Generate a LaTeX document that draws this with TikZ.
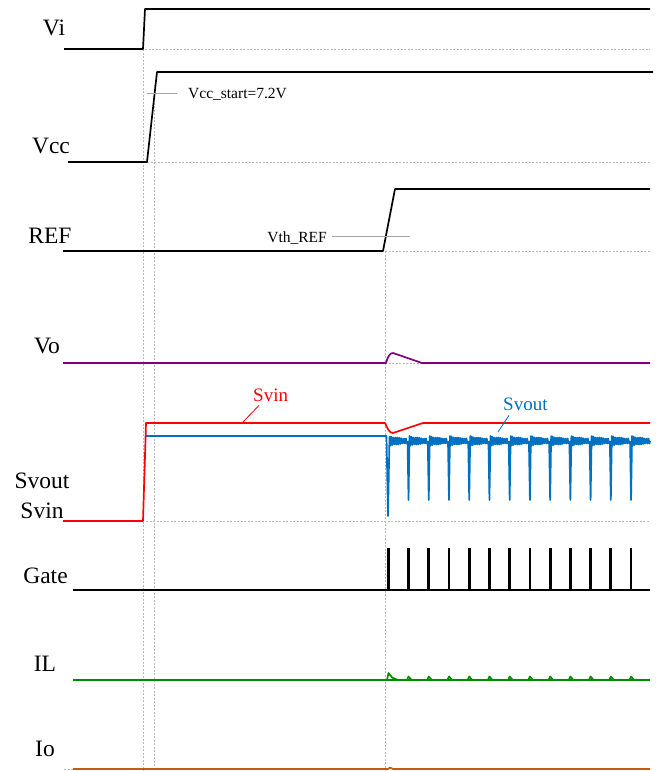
\documentclass[tikz,border=0pt]{standalone}
\usepackage{fontspec}
\setmainfont{Liberation Serif}
\definecolor{svoutblue}{RGB}{0,112,192}
\definecolor{vopurple}{RGB}{128,0,128}
\definecolor{ilgreen}{RGB}{0,140,0}
\definecolor{iobrown}{RGB}{197,90,17}
\tikzset{
trace/.style={line width=1.7pt, line join=round},
guide/.style={gray!55, line width=0.5pt, dash pattern=on 2pt off 1.5pt},
marker/.style={gray!70, line width=0.5pt},
siglbl/.style={font=\fontsize{23.5}{26}\selectfont, anchor=base, inner sep=0},
notelbl/.style={font=\fontsize{15.5}{17}\selectfont, inner sep=0},
}
\begin{document}
\begin{tikzpicture}[x=1pt,y=-1pt]
\useasboundingbox (0,0) rectangle (659,771);
\draw[guide] (143,49) -- (143,771);
\draw[guide] (154.5,85) -- (154.5,771);
\draw[guide] (385.5,251) -- (385.5,771);
\foreach \ya/\xa in {49/145,162/147,251/385,363/385,521/146}{
\draw[guide] (\xa,\ya) -- (650,\ya);
}
\draw[guide] (64,769) -- (73,769);
\node[siglbl] (vilbl) at (54,35) {Vi};
\node[siglbl] (vcclbl) at (51,153) {Vcc};
\node[siglbl] (reflbl) at (50,243) {REF};
\node[siglbl] (volbl) at (47,353) {Vo};
\node[siglbl] (svoutlbl) at (42,488) {Svout};
\node[siglbl] (svinlbl) at (42,518) {Svin};
\node[siglbl] (gatelbl) at (45.5,583) {Gate};
\node[siglbl] (illbl) at (45,671) {IL};
\node[siglbl] (iolbl) at (45,756) {Io};
\draw[trace] (64,49) -- (143,49) -- (145,9) -- (650,9);
\draw[trace] (68,162) -- (147,162) -- (157,72) -- (653,72);
\coordinate (vccstart) at (147,93);
\node[notelbl, anchor=base west] (vccnote) at (188,98) {Vcc\_start=7.2V};
\draw[marker] (vccstart) -- ++(30,0);
\draw[trace] (63,251) -- (383,251) -- (395,189) -- (650,189);
\node[notelbl, anchor=base east] (vthnote) at (327,242) {Vth\_REF};
\coordinate (vthend) at (410,236);
\draw[marker] ([xshift=5pt]vthnote.east |- vthend) -- (vthend);
\draw[trace, vopurple] (63,363) -- (386,363) .. controls (388,356) and (390,353) .. (393,353) -- (422,363) -- (650,363);
\draw[trace, svoutblue] (146,436) -- (386.5,436) -- (388,516) -- (389.5,437)
-- plot[domain=0:18, samples=37] ({389.5+\x},{441+5*exp(-\x/25)*sin(\x*170)});
\foreach \k in {1,...,12}{
\pgfmathsetmacro\xk{388.3+\k*20.23}
\draw[trace, svoutblue] (\xk-1,441) -- (\xk,500) -- (\xk+1,436)
-- plot[domain=0:18, samples=37] ({\xk+1+\x},{441+5*exp(-\x/25)*sin(\x*170)});
}
\draw[trace, red] (63,521) -- (143,521) -- (146,423) -- (385,423) .. controls (388,430) and (390,433) .. (393,433) -- (423,423) -- (650,423);
\coordinate (svintip) at (243,422);
\node[notelbl, font=\fontsize{19}{21}\selectfont, text=red, anchor=base west] (svinnote) at (253,401) {Svin};
\draw[red, line width=0.8pt] (svintip) -- ([shift={(6,4)}]svinnote.south west);
\coordinate (svouttip) at (498,432);
\node[notelbl, font=\fontsize{19}{21}\selectfont, text=svoutblue, anchor=base west] (svoutnote) at (503,410) {Svout};
\draw[svoutblue, line width=0.8pt] (svouttip) -- ([shift={(6,5)}]svoutnote.south west);
\draw[trace] (73,590) -- (650,590);
\foreach \k in {0,...,12}{
\pgfmathsetmacro\xk{388.3+\k*20.23}
\draw[line width=2.8pt] (\xk,590) -- (\xk,548);
}
\draw[trace, ilgreen] (73,680) -- (650,680);
\draw[trace, ilgreen] (387,680) -- (388.5,673) -- (392,677.5) -- (398,680);
\foreach \k in {1,...,12}{
\pgfmathsetmacro\xk{388.3+\k*20.23}
\draw[trace, ilgreen] (\xk-1.5,680) -- (\xk,676.5) -- (\xk+3,680);
}
\draw[trace, iobrown] (73,769) -- (388,769) -- (390,767.5) -- (393,769) -- (650,769);
\end{tikzpicture}
\end{document}
